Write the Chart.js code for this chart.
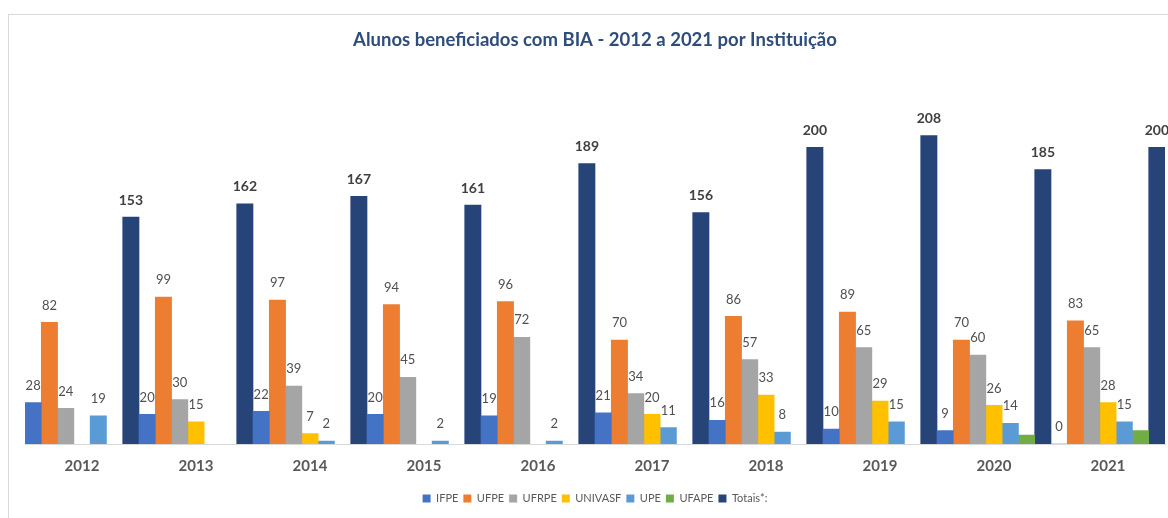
<!DOCTYPE html>
<html>
<head>
<meta charset="utf-8">
<script src="https://cdn.jsdelivr.net/npm/chart.js@4/dist/chart.umd.min.js"></script>
<style>
  html, body { margin: 0; padding: 0; background: #fff; }
  #wrap { position: relative; width: 1168px; height: 518px; }
  #moldura { position: absolute; left: 8px; top: 14px; width: 1170px; height: 520px;
             border-top: 1px solid #d9d9d9; border-left: 1px solid #d9d9d9; }
  canvas { position: absolute; left: 0; top: 0; }
</style>
</head>
<body>
<div id="wrap">
  <div id="moldura"></div>
  <canvas id="grafico" width="1168" height="518"></canvas>
</div>
<script>
  const anos = ['2012', '2013', '2014', '2015', '2016', '2017', '2018', '2019', '2020', '2021'];

  const ifpe    = [28, 20, 22, 20, 19, 21, 16, 10, 9, 0];
  const ufpe    = [82, 99, 97, 94, 96, 70, 86, 89, 70, 83];
  const ufrpe   = [24, 30, 39, 45, 72, 34, 57, 65, 60, 65];
  const univasf = [null, 15, 7, null, null, 20, 33, 29, 26, 28];
  const upe     = [19, null, 2, 2, 2, 11, 8, 15, 14, 15];
  const ufape   = [null, null, null, null, null, null, null, null, 6, 9];
  const totais  = [153, 162, 167, 161, 189, 156, 200, 208, 185, 200];

  function serie(nome, valores, cor, rotulo) {
    return {
      label: nome,
      data: valores,
      backgroundColor: cor,
      borderWidth: 0,
      rotulo: rotulo
    };
  }

  // rótulos de valor acima das barras
  const rotulosPlugin = {
    id: 'rotulos',
    afterDatasetsDraw(chart) {
      const ctx = chart.ctx;
      ctx.save();
      ctx.textAlign = 'center';
      ctx.textBaseline = 'middle';
      chart.data.datasets.forEach((ds, i) => {
        if (!ds.rotulo) return;
        const meta = chart.getDatasetMeta(i);
        meta.data.forEach((bar, j) => {
          const v = ds.data[j];
          if (v === null || v === undefined) return;
          if (ds.rotulo === 'forte') {
            ctx.font = 'bold 14px Lato';
            ctx.fillStyle = '#404040';
          } else {
            ctx.font = '13px Lato';
            ctx.fillStyle = '#505050';
          }
          ctx.fillText(String(v), bar.x, bar.y - 17);
        });
      });
      ctx.restore();
    }
  };

  const ctx = document.querySelector('#grafico');

  new Chart(ctx, {
    type: 'bar',
    data: {
      labels: anos,
      datasets: [
        serie('IFPE', ifpe, '#4472C4', 'normal'),
        serie('UFPE', ufpe, '#ED7D31', 'normal'),
        serie('UFRPE', ufrpe, '#A5A5A5', 'normal'),
        serie('UNIVASF', univasf, '#FFC000', 'normal'),
        serie('UPE', upe, '#5B9BD5', 'normal'),
        serie('UFAPE', ufape, '#70AD47', null),
        serie('Totais*:', totais, '#264478', 'forte')
      ]
    },
    options: {
      responsive: false,
      animation: false,
      layout: { padding: { left: 25, right: 3, top: 0, bottom: 4 } },
      datasets: {
        bar: { categoryPercentage: 1.0, barPercentage: 1.0 }
      },
      scales: {
        x: {
          grid: { display: false, drawTicks: false },
          border: { display: true, color: '#d9d9d9', width: 1 },
          ticks: {
            padding: 13,
            color: '#595959',
            font: { family: 'Lato', size: 15, weight: 'bold' }
          }
        },
        y: {
          display: false,
          min: 0,
          max: 250
        }
      },
      plugins: {
        title: {
          display: true,
          text: 'Alunos beneficiados com BIA - 2012 a 2021 por Instituição',
          color: '#2E4D7B',
          font: { family: 'Lato', size: 18.5, weight: 'bold' },
          padding: { top: 29, bottom: 22 }
        },
        legend: {
          position: 'bottom',
          labels: {
            boxWidth: 8,
            boxHeight: 8,
            padding: 5,
            color: '#595959',
            font: { family: 'Lato', size: 11 }
          }
        },
        tooltip: { enabled: false }
      }
    },
    plugins: [rotulosPlugin]
  });
</script>
</body>
</html>
